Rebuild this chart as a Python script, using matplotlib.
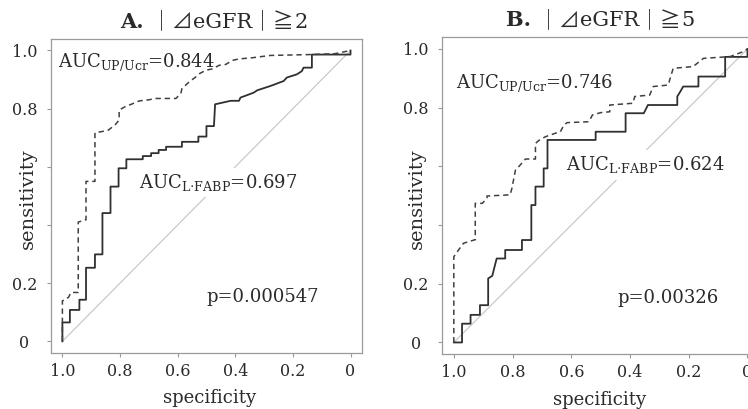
import matplotlib
matplotlib.use("Agg")
import matplotlib.pyplot as plt
from matplotlib.offsetbox import AnnotationBbox, HPacker, TextArea

plt.rcParams["font.family"] = ["DejaVu Serif", "DejaVu Sans", "Noto Sans CJK JP"]
plt.rcParams["mathtext.fontset"] = "dejavuserif"

# --- data: (specificity, sensitivity) vertices of the ROC steps ---
# Panel A, |dGFR| >= 2
a_fabp_spec = [1.0, 1.0, 0.974, 0.974, 0.941, 0.941, 0.918, 0.918, 0.887, 0.887,
               0.861, 0.861, 0.833, 0.833, 0.805, 0.805, 0.778, 0.778, 0.721, 0.721,
               0.692, 0.692, 0.666, 0.666, 0.640, 0.640, 0.585, 0.585, 0.528, 0.528,
               0.500, 0.500, 0.474, 0.470, 0.416, 0.387, 0.382, 0.336, 0.324, 0.278,
               0.232, 0.221, 0.186, 0.169, 0.163, 0.134, 0.134, 0.0, 0.0]
a_fabp_sens = [0.0, 0.065, 0.065, 0.108, 0.108, 0.143, 0.143, 0.253, 0.253, 0.299,
               0.299, 0.441, 0.441, 0.532, 0.532, 0.595, 0.595, 0.626, 0.626, 0.637,
               0.637, 0.647, 0.647, 0.658, 0.658, 0.669, 0.669, 0.686, 0.686, 0.704,
               0.704, 0.740, 0.740, 0.815, 0.827, 0.827, 0.838, 0.855, 0.863, 0.878,
               0.895, 0.907, 0.918, 0.929, 0.941, 0.941, 0.986, 0.986, 1.0]
a_upcr_spec = [1.0, 1.0, 0.979, 0.970, 0.945, 0.945, 0.918, 0.918, 0.887, 0.887,
               0.864, 0.841, 0.818, 0.803, 0.803, 0.784, 0.761, 0.732, 0.709, 0.675,
               0.606, 0.589, 0.585, 0.560, 0.537, 0.525, 0.502, 0.479, 0.456, 0.433,
               0.410, 0.387, 0.341, 0.278, 0.140, 0.054, 0.0]
a_upcr_sens = [0.0, 0.139, 0.151, 0.168, 0.168, 0.410, 0.418, 0.550, 0.550, 0.717,
               0.721, 0.726, 0.743, 0.761, 0.795, 0.806, 0.815, 0.827, 0.829, 0.835,
               0.835, 0.852, 0.869, 0.892, 0.909, 0.920, 0.932, 0.937, 0.949, 0.952,
               0.966, 0.971, 0.975, 0.983, 0.986, 0.989, 1.0]

# Panel B, |dGFR| >= 5
b_fabp_spec = [1.0, 0.972, 0.972, 0.943, 0.943, 0.911, 0.911, 0.883, 0.883, 0.869,
               0.861, 0.854, 0.825, 0.825, 0.768, 0.768, 0.736, 0.736, 0.722, 0.722,
               0.694, 0.694, 0.681, 0.681, 0.517, 0.517, 0.415, 0.415, 0.353, 0.339,
               0.239, 0.239, 0.228, 0.219, 0.167, 0.167, 0.076, 0.076, 0.0, 0.0]
b_fabp_sens = [0.0, 0.0, 0.064, 0.064, 0.094, 0.094, 0.127, 0.127, 0.218, 0.227,
               0.259, 0.286, 0.286, 0.315, 0.315, 0.349, 0.349, 0.468, 0.468, 0.531,
               0.531, 0.593, 0.593, 0.690, 0.690, 0.718, 0.718, 0.781, 0.781, 0.809,
               0.809, 0.838, 0.856, 0.872, 0.872, 0.906, 0.906, 0.973, 0.973, 1.0]
b_upcr_spec = [1.0, 1.0, 0.984, 0.967, 0.938, 0.927, 0.927, 0.903, 0.887, 0.887,
               0.808, 0.802, 0.790, 0.779, 0.756, 0.722, 0.722, 0.711, 0.688, 0.654,
               0.637, 0.625, 0.614, 0.540, 0.528, 0.500, 0.469, 0.469, 0.390, 0.384,
               0.333, 0.321, 0.270, 0.253, 0.185, 0.150, 0.059, 0.014, 0.0]
b_upcr_sens = [0.0, 0.292, 0.315, 0.338, 0.347, 0.350, 0.474, 0.474, 0.492, 0.499,
               0.503, 0.526, 0.588, 0.599, 0.625, 0.625, 0.678, 0.688, 0.701, 0.713,
               0.718, 0.741, 0.749, 0.752, 0.775, 0.783, 0.786, 0.809, 0.815, 0.838,
               0.843, 0.872, 0.877, 0.934, 0.940, 0.968, 0.974, 0.991, 1.0]

titles = ["A.", "B."]
thresholds = ["2", "5"]
auc_upcr = ["0.844", "0.746"]
auc_fabp = ["0.697", "0.624"]
p_values = ["p=0.000547", "p=0.00326"]
x_ticks = [1.0, 0.8, 0.6, 0.4, 0.2, 0.0]
x_ticklabels = ["1.0", "0.8", "0.6", "0.4", "0.2", "0"]
y_ticks = [0.0, 0.2, 0.4, 0.6, 0.8, 1.0]
y_ticklabels = ["0", "0.2", "", "", "0.8", "1.0"]

panels = [
    dict(pos=[0.068, 0.137, 0.416, 0.768], fabp=(a_fabp_spec, a_fabp_sens),
         upcr=(a_upcr_spec, a_upcr_sens),
         t_up=(1.014, 0.96), t_fabp=(0.734, 0.545), t_p=(0.50, 0.154),
         title_x=0.524, ylab_x=-0.074, xlab_x=0.511),
    dict(pos=[0.591, 0.134, 0.424, 0.775], fabp=(b_fabp_spec, b_fabp_sens),
         upcr=(b_upcr_spec, b_upcr_sens),
         t_up=(0.993, 0.884), t_fabp=(0.618, 0.605), t_p=(0.444, 0.153),
         title_x=0.498, ylab_x=-0.079, xlab_x=0.498),
]

fig = plt.figure(figsize=(7.48, 4.09), dpi=100)
edge = "#9a9a9a"
ink = "#2a2a2a"
serif = dict(fontfamily="DejaVu Serif", fontsize=15, color=ink)
cjk = dict(fontfamily="Noto Sans CJK JP", fontsize=15, color=ink)

for i, p in enumerate(panels):
    ax = fig.add_axes(p["pos"])
    ax.plot([1, 0], [0, 1], color="#c4c4c4", lw=0.8, zorder=1)
    ax.plot(*p["fabp"], color="#303030", lw=1.3, zorder=2)
    ax.plot(*p["upcr"], color="#404040", lw=1.1, ls=(0, (3.5, 2.5)), zorder=2)

    ax.set_xlim(1.04, -0.04)
    ax.set_ylim(-0.04, 1.04)
    ax.set_xticks(x_ticks)
    ax.set_xticklabels(x_ticklabels)
    ax.set_yticks(y_ticks)
    ax.set_yticklabels(y_ticklabels, ha="center")
    ax.tick_params(axis="x", length=3, color=edge, labelsize=11.5,
                   labelcolor=ink, pad=4)
    ax.tick_params(axis="y", length=3, color=edge, labelsize=11.5,
                   labelcolor=ink, pad=16)
    for s in ax.spines.values():
        s.set_color(edge)
        s.set_linewidth(0.9)

    ax.set_xlabel("specificity", fontsize=13, color=ink, va="center")
    ax.xaxis.set_label_coords(p["xlab_x"], -0.143)
    ax.set_ylabel("sensitivity", fontsize=14, color=ink, va="center")
    ax.yaxis.set_label_coords(p["ylab_x"], 0.49)

    # title: mixed serif / CJK glyphs packed on one baseline
    parts = [TextArea(titles[i] + " ", textprops=dict(serif, fontweight="bold")),
             TextArea("\uff5c\u22bf", textprops=cjk),
             TextArea("eGFR", textprops=serif),
             TextArea("\uff5c\u2267", textprops=cjk),
             TextArea(thresholds[i], textprops=serif)]
    box = HPacker(children=parts, align="baseline", pad=0, sep=0)
    ab = AnnotationBbox(box, (p["title_x"], 1.055), xycoords="axes fraction",
                        box_alignment=(0.5, 0.5), frameon=False,
                        annotation_clip=False)
    ax.add_artist(ab)

    ax.text(*p["t_up"], r"AUC$_{\mathrm{UP/Ucr}}$=" + auc_upcr[i],
            fontsize=13, color=ink, ha="left", va="center", zorder=3)
    ax.text(*p["t_fabp"], r"AUC$_{\mathrm{L{\cdot}FABP}}$=" + auc_fabp[i],
            fontsize=13, color=ink, ha="left", va="center", zorder=3,
            bbox=dict(facecolor="white", edgecolor="none", pad=3))
    ax.text(*p["t_p"], p_values[i], fontsize=13, color=ink,
            ha="left", va="center", zorder=3)

fig.savefig("out.png", dpi=100)
